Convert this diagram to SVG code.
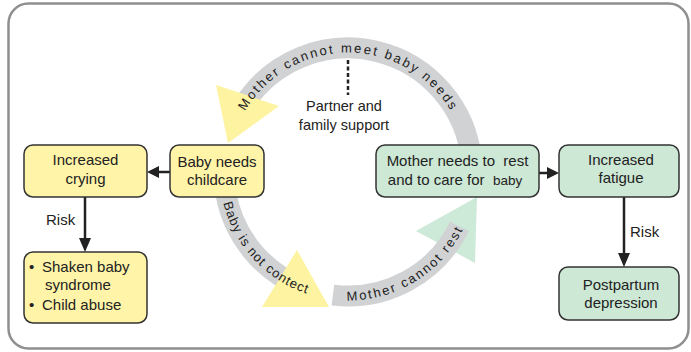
<svg xmlns="http://www.w3.org/2000/svg" width="691" height="352" viewBox="0 0 691 352">
<style>
text{font-family:"Liberation Sans",Arial,sans-serif;fill:#222;}
.bt{font-size:15px;text-anchor:middle;}
.lbl{font-size:15px;}
.band{fill:none;stroke:#d1d2d4;stroke-width:21;}
.ybox{fill:#fff4a8;stroke:#333;stroke-width:1.5;}
.gbox{fill:#cde8d5;stroke:#333;stroke-width:1.5;}
.ytri{fill:#fdf3a0;}
.gtri{fill:#cde9d7;}
.arc{font-size:13px;}
.conn{stroke:#222;stroke-width:2.5;fill:none;}
.head{fill:#222;}
</style>
<defs>
<path id="pTop" d="M 245.04 111.35 A 119.5 119.5 0 0 1 456.3 121.5"/>
<path id="pLeft" d="M 223.3 203.1 A 128.5 128.5 0 0 0 325.7 298.5"/>
<path id="pBot" d="M 346.9 300.5 A 128.5 128.5 0 0 0 468.8 216.0"/>
</defs>
<rect x="0" y="0" width="691" height="352" fill="#fff"/>
<rect x="8.5" y="3.5" width="680" height="345" rx="20" fill="#fff" stroke="#8f8f8f" stroke-width="2.5"/>

<g id="cycle">
<polygon class="gtri" points="477,197 416,231 475,263"/>
<path class="band" d="M 242.8 106.3 A 124 124 0 0 1 471.5 161.2"/>
<path class="band" d="M 225.9 193.5 A 124 124 0 0 0 301.5 287.0"/>
<path class="band" d="M 332.9 295.1 A 124 124 0 0 0 459.5 226.4"/>
<polygon class="ytri" points="216,85 279,106 228,143"/>
<polygon class="ytri" points="297,250 262,307 329,307"/>
<text class="arc" letter-spacing="2.15"><textPath href="#pTop">Mother cannot meet baby needs</textPath></text>
<text class="arc" font-size="13.5" letter-spacing="1"><textPath href="#pLeft">Baby is not contect</textPath></text>
<text class="arc" letter-spacing="2"><textPath href="#pBot">Mother cannot rest</textPath></text>
</g>

<g id="connectors">
<line class="conn" x1="348" y1="60" x2="348" y2="95" stroke-dasharray="4 2.5"/>
<line class="conn" x1="170" y1="172" x2="157" y2="172"/>
<polygon class="head" points="147,172 159,166 159,178"/>
<line class="conn" x1="85" y1="197" x2="85" y2="240"/>
<polygon class="head" points="85,252 79,238 91,238"/>
<line class="conn" x1="539" y1="173" x2="549" y2="173"/>
<polygon class="head" points="559,173 547,167 547,179"/>
<line class="conn" x1="624" y1="197" x2="624" y2="255"/>
<polygon class="head" points="624,267 618,253 630,253"/>
<text class="lbl" x="46" y="225">Risk</text>
<text class="lbl" x="630" y="237">Risk</text>
</g>

<g id="support">
<text x="344" y="111" font-size="14.5" text-anchor="middle">Partner and</text>
<text x="344" y="130" font-size="14.5" text-anchor="middle">family support</text>
</g>

<g id="crying">
<rect class="ybox" x="24" y="145" width="123" height="52" rx="9"/>
<text class="bt" x="85.5" y="165">Increased</text>
<text class="bt" x="85.5" y="184">crying</text>
</g>
<g id="shaken">
<rect class="ybox" x="24" y="252" width="123" height="71" rx="9"/>
<text class="lbl" x="29" y="272">•</text>
<text class="lbl" x="42" y="272">Shaken baby</text>
<text class="lbl" x="45" y="290">syndrome</text>
<text class="lbl" x="29" y="310">•</text>
<text class="lbl" x="42" y="310">Child abuse</text>
</g>
<g id="babyneeds">
<rect class="ybox" x="170" y="145" width="94" height="52" rx="9"/>
<text class="bt" x="217" y="167">Baby needs</text>
<text class="bt" x="217" y="185">childcare</text>
</g>
<g id="motherneeds">
<rect class="gbox" x="376" y="145" width="163" height="52" rx="9"/>
<text class="bt" x="457.5" y="166" xml:space="preserve">Mother needs to  rest</text>
<text class="bt" x="455" y="185" xml:space="preserve">and to care for  <tspan font-size="13.5">baby</tspan></text>
</g>
<g id="fatigue">
<rect class="gbox" x="559" y="145" width="120" height="52" rx="9"/>
<text class="bt" x="621" y="165">Increased</text>
<text class="bt" x="621" y="183">fatigue</text>
</g>
<g id="postpartum">
<rect class="gbox" x="559" y="267" width="120" height="53" rx="9"/>
<text class="bt" x="621" y="290">Postpartum</text>
<text class="bt" x="621" y="308">depression</text>
</g>
</svg>
